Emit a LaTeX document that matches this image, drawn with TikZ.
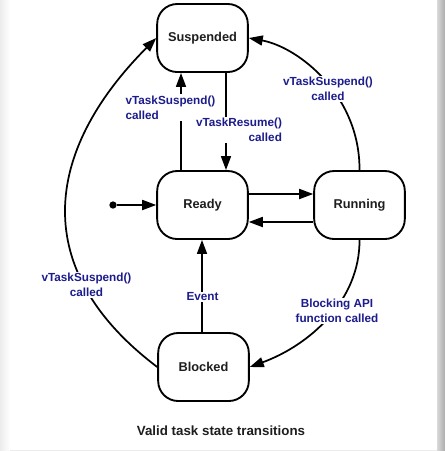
\documentclass[tikz,border=0pt]{standalone}
\usepackage{fontspec}
\setmainfont{Liberation Sans}
\usetikzlibrary{arrows.meta,calc}
\definecolor{lblue}{RGB}{28,28,140}
\definecolor{boxtext}{RGB}{30,30,30}
\begin{document}
\begin{tikzpicture}[x=0.75pt,y=-0.75pt,
  state/.style={draw, line width=1.4pt, rounded corners=15pt, minimum width=68pt, minimum height=51pt, font=\fontsize{9.6}{11}\selectfont\bfseries, text=boxtext},
  conn/.style={line width=1.3pt, -{Triangle[length=10.5pt,width=7.5pt]}},
  lbl/.style={fill=white, inner sep=1pt, text=lblue, font=\fontsize{8.8}{11.2}\selectfont\bfseries, align=center}]
\useasboundingbox (0,0) rectangle (445,451);
% background / frame
\fill[white] (0,0) rectangle (445,451);
\shade[left color=gray!15, right color=white] (0,0) rectangle (10,451);
\shade[left color=gray!30, right color=gray!65] (437,0) rectangle (445,451);
\fill[gray!15] (10,449.5) rectangle (437,451);
% states
\node[state] (Suspended) at (202.5,38) {Suspended};
\node[state] (Ready) at (202.5,205) {Ready};
\node[state] (Running) at (359.5,205) {Running};
\node[state] (Blocked) at (203.5,367) {Blocked};
\node[circle, fill=black, inner sep=0pt, minimum size=5.5pt] (init) at (113,205) {};
% helper coordinates
\coordinate (yTop) at (0,194);
\coordinate (yBot) at (0,222);
\coordinate (xL) at (181,0);
\coordinate (xR) at (226,0);
\coordinate (xE) at (202,0);
% connectors
\draw[conn] (init) -- (Ready.west);
\draw[conn] (Ready.east |- yTop) -- (Running.west |- yTop);
\draw[conn] (Running.west |- yBot) -- (Ready.east |- yBot);
\draw[conn] (Ready.north -| xL) -- (Suspended.south -| xL);
\draw[conn] (Suspended.south -| xR) -- (Ready.north -| xR);
\draw[conn] (Blocked.north -| xE) -- (Ready.south -| xE);
\draw[conn] (Running.north) .. controls (360,95) and (298,47) .. (Suspended.east);
\draw[conn] (Running.south) .. controls (360,300) and (310,345) .. (Blocked.east);
\draw[conn] (Blocked.west) .. controls (29,270) and (43,152) .. (Suspended.west);
% labels
\node[lbl, align=left] (l1) at (170.5,107.5) {vTaskSuspend()\\called};
\node[lbl, align=right] (l2) at (239,130) {vTaskResume()\\called};
\node[lbl] (l3) at (328,89) {vTaskSuspend()\\called};
\node[lbl] (l4) at (86.5,285) {vTaskSuspend()\\called};
\node[lbl] (l5) at (202.5,297) {Event};
\node[lbl] (l6) at (337,311) {Blocking API\\function called};
% caption
\node[font=\fontsize{10}{12}\selectfont\bfseries, text=boxtext] (cap) at (221,431) {Valid task state transitions};
\end{tikzpicture}
\end{document}
